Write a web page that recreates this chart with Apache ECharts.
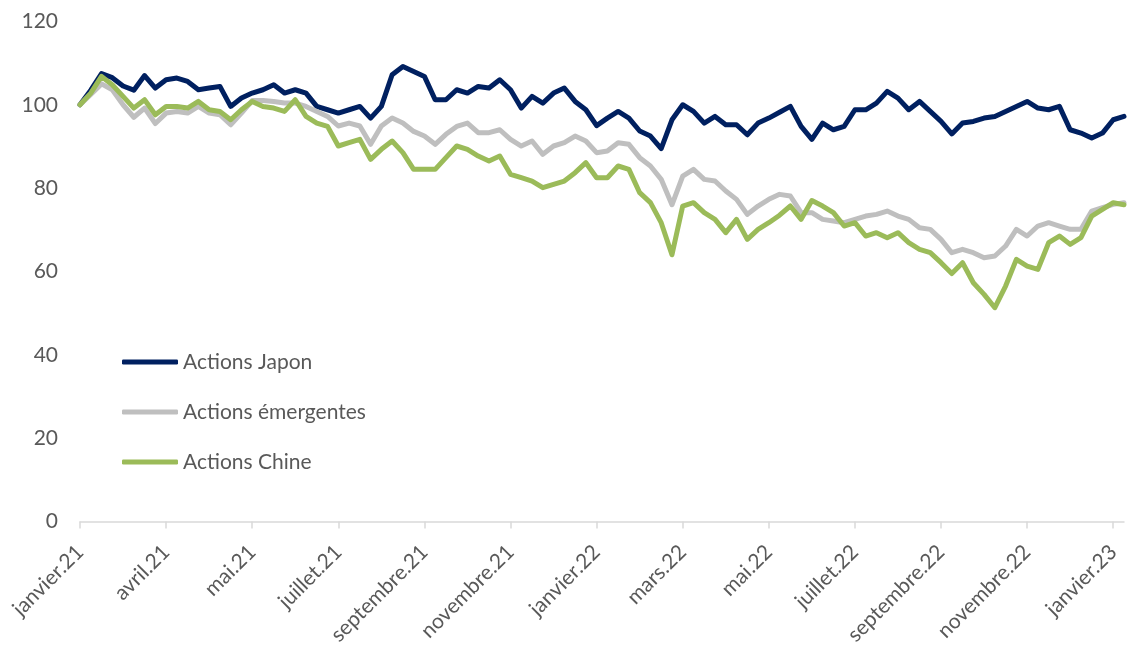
<!DOCTYPE html>
<html>
<head>
<meta charset="utf-8">
<script src="https://cdn.jsdelivr.net/npm/echarts@6/dist/echarts.min.js"></script>
<style>
  html, body { margin: 0; padding: 0; background: #ffffff; }
  #chart { width: 1129px; height: 651px; }
</style>
</head>
<body>
<div id="chart"></div>
<script>
// Month labels, one every 8 weekly points
const tickLabels = ['janvier.21', 'avril.21', 'mai.21', 'juillet.21', 'septembre.21', 'novembre.21',
  'janvier.22', 'mars.22', 'mai.22', 'juillet.22', 'septembre.22', 'novembre.22', 'janvier.23'];
const pointsPerLabel = 8;

// Weekly index values (base 100)
const japon = [
  100, 103.5, 107.5, 106.5, 104.5, 103.5, 107, 104, 106, 106.4, 105.6, 103.6, 104, 104.4, 99.6, 101.6,
  102.8, 103.6, 104.8, 102.8, 103.6, 102.8, 99.6, 98.8, 98, 98.8, 99.6, 96.8, 99.6, 107.2, 109.2, 108,
  106.8, 101.2, 101.2, 103.6, 102.8, 104.4, 104, 106, 103.6, 99.2, 102, 100.4, 102.8, 104, 100.8, 98.8,
  95, 96.8, 98.4, 96.8, 93.7, 92.5, 89.5, 96.4, 100, 98.4, 95.6, 97.2, 95.2, 95.2, 92.8, 95.6,
  96.8, 98.2, 99.6, 94.8, 91.7, 95.6, 94, 94.8, 98.8, 98.8, 100.4, 103.2, 101.6, 98.8, 100.8, 98.4,
  96, 93, 95.6, 96, 96.8, 97.2, 98.4, 99.6, 100.8, 99.2, 98.8, 99.6, 94, 93.2, 92, 93.2,
  96.4, 97.2
];
const emergentes = [
  100, 102.5, 105, 103.6, 100, 97, 99.2, 95.5, 98, 98.4, 98, 99.6, 98, 97.6, 95.2, 98,
  101, 101, 100.8, 100.4, 100.4, 99.6, 98.4, 97.2, 94.9, 95.6, 94.9, 90.5, 94.9, 96.8, 95.6, 93.6,
  92.5, 90.5, 92.9, 94.8, 95.6, 93.3, 93.3, 94, 91.7, 90.1, 91.3, 88.1, 90.1, 90.9, 92.5, 91.3,
  88.5, 88.9, 90.9, 90.5, 87.3, 85.3, 82.1, 76, 82.9, 84.5, 82.1, 81.7, 79.3, 77.3, 73.7, 75.7,
  77.3, 78.5, 78.1, 74.1, 74.1, 72.5, 72.1, 71.7, 72.5, 73.3, 73.7, 74.5, 73.3, 72.5, 70.5, 70.1,
  67.7, 64.5, 65.3, 64.5, 63.3, 63.7, 66.1, 70.1, 68.5, 70.9, 71.7, 70.9, 70.1, 70.1, 74.5, 75.3,
  76.1, 76.5
];
const chine = [
  100, 102.8, 106.8, 104.8, 102, 99.2, 101.2, 97.6, 99.6, 99.6, 99.2, 100.8, 98.8, 98.4, 96.4, 98.8,
  100.8, 99.6, 99.2, 98.4, 101.2, 97.2, 95.6, 94.8, 90.1, 90.9, 91.7, 86.9, 89.3, 91.3, 88.5, 84.5,
  84.5, 84.5, 87.3, 90.1, 89.3, 87.7, 86.5, 87.7, 83.3, 82.5, 81.7, 80.1, 80.9, 81.7, 83.7, 86.1,
  82.5, 82.5, 85.3, 84.5, 78.9, 76.5, 71.7, 64, 75.7, 76.5, 74.1, 72.5, 69.3, 72.5, 67.7, 70.1,
  71.7, 73.5, 75.7, 72.5, 77, 75.7, 74.1, 70.9, 71.7, 68.5, 69.3, 68.1, 69.3, 66.9, 65.3, 64.5,
  62.1, 59.5, 62.1, 57.3, 54.5, 51.3, 56.5, 62.9, 61.3, 60.5, 66.9, 68.5, 66.5, 68.1, 73.3, 74.9,
  76.5, 76
];

const weeks = japon.map((_, i) => String(i));
const textColor = '#595959';
const fontFamily = 'Lato, "Open Sans", sans-serif';

const chart = echarts.init(document.getElementById('chart'), null, { renderer: 'canvas' });

function lineSeries(name, data, color) {
  return {
    name: name,
    type: 'line',
    data: data,
    showSymbol: false,
    symbol: 'none',
    smooth: false,
    lineStyle: { color: color, width: 5, cap: 'round', join: 'round' },
    itemStyle: { color: color },
    emphasis: { disabled: true }
  };
}

chart.setOption({
  animation: false,
  backgroundColor: '#ffffff',
  textStyle: { fontFamily: fontFamily },
  grid: { left: 80, right: 5, top: 21.4, bottom: 129.5, containLabel: false },
  legend: {
    orient: 'vertical',
    left: 117,
    top: 345,
    itemWidth: 56,
    itemHeight: 5,
    itemGap: 26,
    icon: 'roundRect',
    textStyle: { color: textColor, fontSize: 21, fontFamily: fontFamily, lineHeight: 24 },
    data: ['Actions Japon', 'Actions émergentes', 'Actions Chine']
  },
  xAxis: {
    type: 'category',
    data: weeks,
    boundaryGap: false,
    axisLine: { show: true, lineStyle: { color: '#d9d9d9', width: 1.5 } },
    axisTick: { show: true, interval: pointsPerLabel - 1, length: 7, lineStyle: { color: '#d9d9d9', width: 1.5 } },
    axisLabel: {
      interval: pointsPerLabel - 1,
      rotate: 45,
      margin: 27,
      color: textColor,
      fontSize: 21,
      fontFamily: fontFamily,
      formatter: (value, index) => tickLabels[Math.round(index / pointsPerLabel)] || ''
    },
    splitLine: { show: false }
  },
  yAxis: {
    type: 'value',
    min: 0,
    max: 120,
    interval: 20,
    axisLine: { show: false },
    axisTick: { show: false },
    splitLine: { show: false },
    axisLabel: { color: textColor, fontSize: 21, fontFamily: fontFamily, margin: 22 }
  },
  series: [
    lineSeries('Actions Japon', japon, '#002060'),
    lineSeries('Actions émergentes', emergentes, '#bfbfbf'),
    lineSeries('Actions Chine', chine, '#9bbb59')
  ]
});
</script>
</body>
</html>
